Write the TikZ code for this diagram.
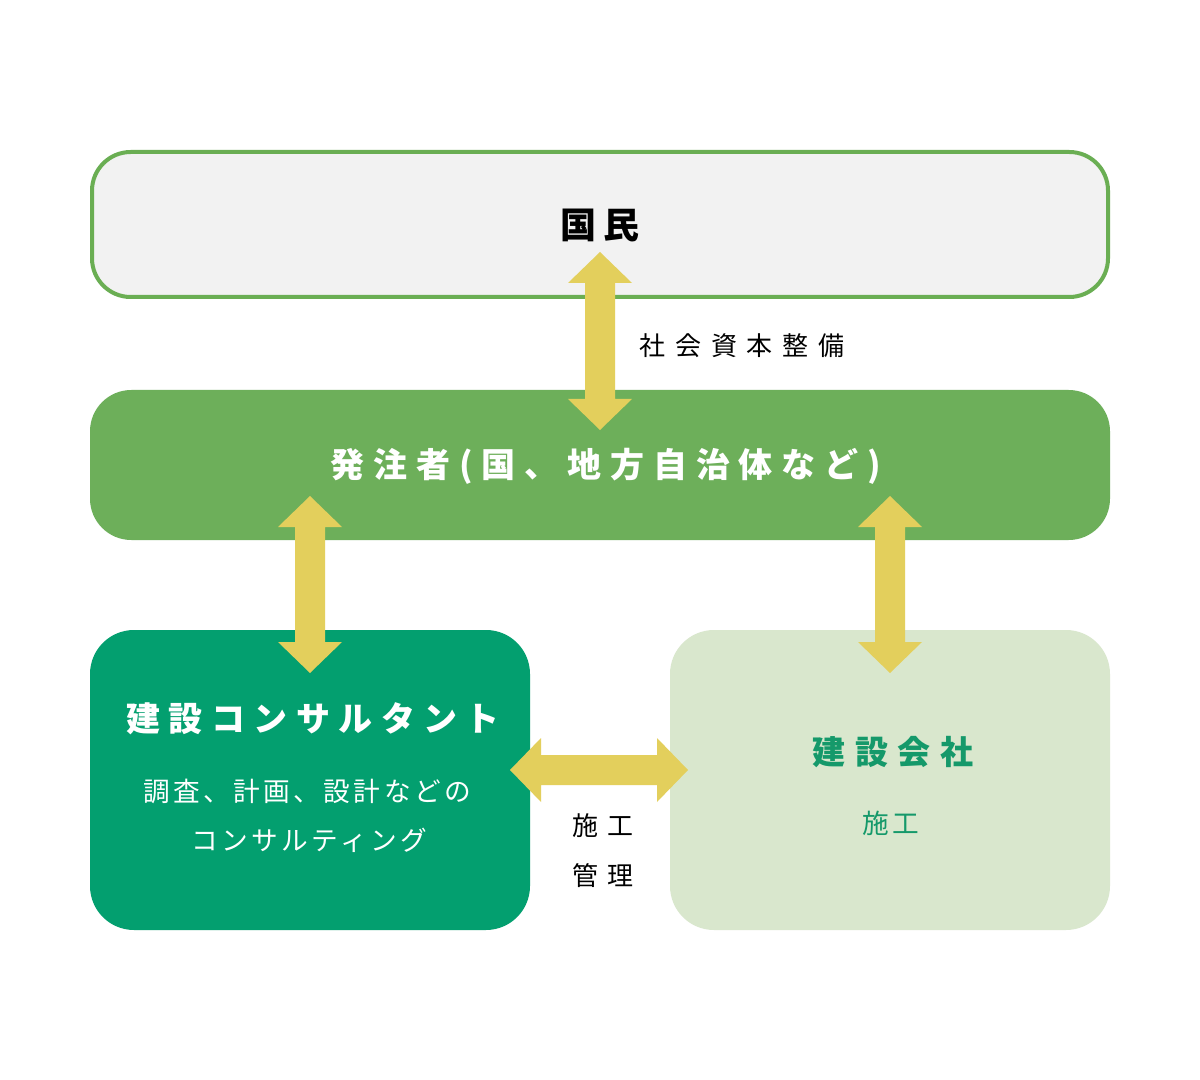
\documentclass[tikz,border=0pt]{standalone}
\usepackage{fontspec}
\setmainfont{Noto Sans CJK JP}
\usetikzlibrary{calc}
\definecolor{topline}{HTML}{6AAE53}
\definecolor{topfill}{HTML}{F2F2F2}
\definecolor{midfill}{HTML}{6DAF5A}
\definecolor{consfill}{HTML}{039F6F}
\definecolor{compfill}{HTML}{D9E7CD}
\definecolor{arrowyel}{HTML}{E3CF5C}
\definecolor{greentext}{HTML}{15996A}
\newcommand\vdarr[2]{\fill[arrowyel] (#1) -- ($(#1)+(32,31)$) -- ($(#1)+(15,31)$) -- ($(#2)+(15,-31)$) -- ($(#2)+(32,-31)$) -- (#2) -- ($(#2)+(-32,-31)$) -- ($(#2)+(-15,-31)$) -- ($(#1)+(-15,31)$) -- ($(#1)+(-32,31)$) -- cycle;}
\newcommand\hdarr[2]{\fill[arrowyel] (#1) -- ($(#1)+(31,-32)$) -- ($(#1)+(31,-15)$) -- ($(#2)+(-31,-15)$) -- ($(#2)+(-31,-32)$) -- (#2) -- ($(#2)+(-31,32)$) -- ($(#2)+(-31,15)$) -- ($(#1)+(31,15)$) -- ($(#1)+(31,32)$) -- cycle;}
\tikzset{
  boxshape/.style={rectangle, inner sep=0pt, outer sep=0pt},
  txt/.style={inner sep=0pt, anchor=center},
}
\begin{document}
\begin{tikzpicture}[x=0.75pt,y=-0.75pt]
\useasboundingbox (0,0) rectangle (1200,1080);
\fill[white] (0,0) rectangle (1200,1080);
% boxes
\node[boxshape, draw=topline, line width=3pt, fill=topfill, rounded corners=29pt,
  minimum width=762pt, minimum height=108.75pt] (kokumin) at (600,224.5) {};
\node[boxshape, fill=midfill, rounded corners=31pt,
  minimum width=765pt, minimum height=112.5pt] (hacchu) at (600,465) {};
\node[boxshape, fill=consfill, rounded corners=33pt,
  minimum width=330pt, minimum height=225pt] (cons) at (310,780) {};
\node[boxshape, fill=compfill, rounded corners=33pt,
  minimum width=330pt, minimum height=225pt] (comp) at (890,780) {};
% texts
\node[txt] (t0) at (600,226) {\fontsize{27pt}{27pt}\selectfont\bfseries\addfontfeature{LetterSpace=20}国民};
\node[txt, text=white] (t1) at (606,466) {\fontsize{25.5pt}{25.5pt}\selectfont\bfseries\addfontfeature{LetterSpace=26}発注者(国、地方自治体など)};
\node[txt, text=white] (t2) at (313,719) {\fontsize{25.5pt}{25.5pt}\selectfont\bfseries\addfontfeature{LetterSpace=25}建設コンサルタント};
\node[txt, text=white] (t3) at (307,791) {\fontsize{20pt}{20pt}\selectfont\addfontfeature{LetterSpace=13}調査、計画、設計などの};
\node[txt, text=white] (t4) at (309,840) {\fontsize{20pt}{20pt}\selectfont\addfontfeature{LetterSpace=13}コンサルティング};
\node[txt, text=greentext] (t5) at (893,752) {\fontsize{24.75pt}{24.75pt}\selectfont\bfseries\addfontfeature{LetterSpace=30}建設会社};
\node[txt, text=greentext] (t6) at (891,823) {\fontsize{20pt}{20pt}\selectfont\addfontfeature{LetterSpace=12}施工};
\node[txt] (l1) at (742,346) {\fontsize{19.5pt}{19.5pt}\selectfont\addfontfeature{LetterSpace=38}社会資本整備};
\node[txt] (l2) at (603,826) {\fontsize{19.5pt}{19.5pt}\selectfont\addfontfeature{LetterSpace=38}施工};
\node[txt] (l3) at (603,876) {\fontsize{19.5pt}{19.5pt}\selectfont\addfontfeature{LetterSpace=38}管理};
% arrows
\coordinate (a1t) at (600,252);
\coordinate (a1b) at (600,430);
\coordinate (a2t) at (310,496);
\coordinate (a2b) at (310,673);
\coordinate (a3t) at (890,496);
\coordinate (a3b) at (890,673);
\coordinate (a4l) at (510,770);
\coordinate (a4r) at (688,770);
\vdarr{a1t}{a1b}
\vdarr{a2t}{a2b}
\vdarr{a3t}{a3b}
\hdarr{a4l}{a4r}
\end{tikzpicture}
\end{document}
